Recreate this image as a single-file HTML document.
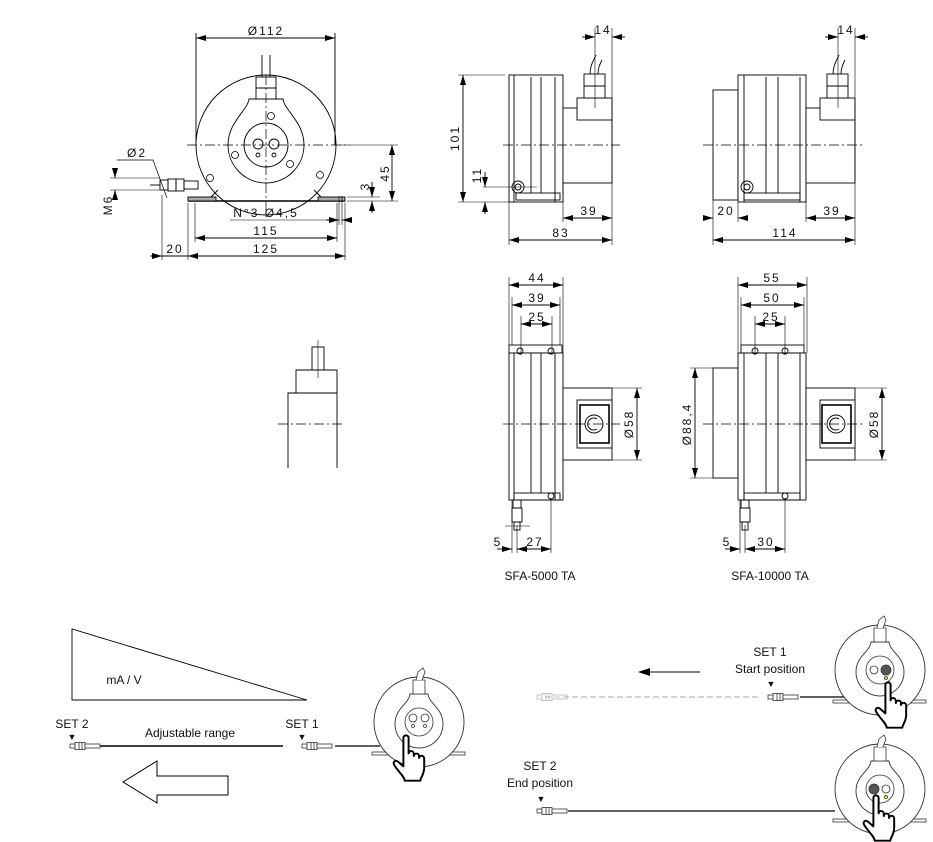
<!DOCTYPE html>
<html><head><meta charset="utf-8"><style>
html,body{margin:0;padding:0;background:#fff}
svg{display:block}
text{font-family:"Liberation Sans",sans-serif;fill:#111}
.d{font-size:12px;letter-spacing:2px}
.l{font-size:12px}
</style></head><body>
<svg width="933" height="842" viewBox="0 0 933 842" xmlns="http://www.w3.org/2000/svg">
<defs>
<marker id="a" viewBox="0 0 10 6" refX="10" refY="3" markerWidth="10" markerHeight="6" orient="auto-start-reverse" markerUnits="userSpaceOnUse"><path d="M0,0L10,3L0,6z" fill="#000"/></marker>
<g id="hand">
<path d="M-4,-28 C-4,-33 4,-33 4,-28 L4,-4 C5,-9 12,-9 12,-3 L12,0 C13,-5 20,-5 20,0 L20,3 C21,-2 28,-1 28,4 L28,18 C28,28 22,34 22,38 L-2,38 C-2,32 -12,24 -18,14 C-21,9 -16,5 -12,9 L-4,16 Z" fill="#fff" stroke="#000" stroke-width="3" stroke-linejoin="round"/>
</g>
<g id="sensor">
<rect x="-47" y="30" width="93" height="3" fill="#fff" stroke="#333" stroke-width="0.8"/>
<circle r="45" fill="#fff" stroke="#333" stroke-width="0.9"/>
<path d="M-9,-28 L9,-28 C10,-18 24,-14 24,2 A24,24 0 1 1 -24,2 C-24,-14 -10,-18 -9,-28Z" fill="#fff" stroke="#333" stroke-width="0.9"/>
<circle r="14" fill="none" stroke="#333" stroke-width="0.8"/>
<rect x="-6" y="-42" width="12" height="14" fill="#fff" stroke="#333" stroke-width="0.8"/>
<path d="M-3,-42 L-1,-50 L4,-54 L6,-50 L3,-42" fill="#fff" stroke="#333" stroke-width="0.8"/>
</g>
<g id="probe">
<rect x="0" y="-2" width="5" height="4" fill="#fff" stroke="#333" stroke-width="0.8"/>
<rect x="5" y="-3.5" width="10" height="7" fill="#fff" stroke="#333" stroke-width="0.8"/>
<line x1="9" y1="-3.5" x2="9" y2="3.5" stroke="#333" stroke-width="0.8"/>
<line x1="12" y1="-3.5" x2="12" y2="3.5" stroke="#333" stroke-width="0.8"/>
<rect x="15" y="-2" width="15" height="4" fill="#fff" stroke="#333" stroke-width="0.8"/>
</g>
</defs>

<g stroke="#000" stroke-width="0.9" fill="none">
<!-- FRONT VIEW -->
<line x1="196" y1="33" x2="196" y2="145"/><line x1="335" y1="33" x2="335" y2="145"/>
<line x1="196" y1="38" x2="335" y2="38" marker-start="url(#a)" marker-end="url(#a)"/>
<line x1="262" y1="55" x2="262" y2="78"/><line x1="270" y1="55" x2="270" y2="78"/>
<circle cx="266" cy="145" r="70"/>
<path d="M210,198 L218,190 M322,198 L314,190"/>
<path d="M249,99 L283,99 C284,110 304,122 304,145 A38,38 0 1 1 228,145 C228,122 248,110 249,99Z" fill="#fff"/>
<rect x="256" y="77" width="20" height="22" fill="#fff"/><line x1="256" y1="88" x2="276" y2="88"/>
<circle cx="266" cy="145" r="22"/>
<circle cx="258" cy="144" r="5"/><circle cx="274" cy="144" r="5"/>
<circle cx="258" cy="155" r="2"/><circle cx="274" cy="155" r="2"/>
<g stroke-width="0.8"><circle cx="271" cy="116" r="3.5"/><circle cx="235" cy="155" r="3.5"/><circle cx="290" cy="164" r="3.5"/><circle cx="210" cy="178" r="3.5"/><circle cx="320" cy="175" r="3.5"/></g>
<line x1="188" y1="201" x2="345" y2="201" stroke-width="1.5"/>
<rect x="188" y="197" width="28" height="4" fill="#aaa"/><rect x="318" y="197" width="27" height="4" fill="#aaa"/>
<line x1="187" y1="145" x2="350" y2="145" stroke-dasharray="10,3,2,3" stroke-width="0.7"/>
<line x1="266" y1="75" x2="266" y2="212" stroke-dasharray="10,3,2,3" stroke-width="0.7"/>
<rect x="160" y="180" width="8" height="10"/><rect x="168" y="179" width="8" height="12"/><rect x="176" y="179" width="8" height="12"/><rect x="184" y="181" width="14" height="8"/>
<line x1="150" y1="185" x2="160" y2="185"/>
<line x1="110" y1="178" x2="160" y2="178" stroke-width="0.6"/><line x1="110" y1="190" x2="160" y2="190" stroke-width="0.6"/>
<line x1="115" y1="168" x2="115" y2="178" marker-end="url(#a)"/><line x1="115" y1="200" x2="115" y2="190" marker-end="url(#a)"/>
<path d="M117,160 L153,160 L167,198" stroke-width="0.7"/>
<line x1="162" y1="195" x2="162" y2="260" stroke-width="0.6"/><line x1="188" y1="203" x2="188" y2="260" stroke-width="0.6"/><line x1="345" y1="203" x2="345" y2="260" stroke-width="0.6"/><line x1="337" y1="203" x2="337" y2="242" stroke-width="0.6"/><line x1="195" y1="203" x2="195" y2="242" stroke-width="0.6"/>
<line x1="195" y1="238" x2="337" y2="238" marker-start="url(#a)" marker-end="url(#a)"/>
<line x1="188" y1="256" x2="345" y2="256" marker-start="url(#a)" marker-end="url(#a)"/>
<line x1="150" y1="256" x2="162" y2="256" marker-end="url(#a)"/><line x1="162" y1="256" x2="188" y2="256"/>
<line x1="230" y1="220" x2="340" y2="220" stroke-width="0.6"/><line x1="326" y1="220" x2="339" y2="220" marker-end="url(#a)"/><line x1="352" y1="220" x2="342" y2="220" marker-end="url(#a)"/>
<line x1="339" y1="196" x2="339" y2="225" stroke-width="0.6"/><line x1="342" y1="196" x2="342" y2="225" stroke-width="0.6"/>
<line x1="340" y1="145" x2="398" y2="145" stroke-width="0.6"/><line x1="347" y1="201" x2="398" y2="201" stroke-width="0.6"/><line x1="347" y1="197" x2="380" y2="197" stroke-width="0.6"/>
<line x1="392" y1="145" x2="392" y2="201" marker-start="url(#a)" marker-end="url(#a)"/>
<line x1="372" y1="182" x2="372" y2="197" marker-end="url(#a)"/><line x1="372" y1="213" x2="372" y2="201" marker-end="url(#a)"/>

<!-- SIDE VIEW 1 -->
<rect x="509" y="75" width="54" height="127" fill="#fff"/>
<line x1="514" y1="75" x2="514" y2="202"/><line x1="531" y1="77" x2="531" y2="193"/><line x1="541" y1="77" x2="541" y2="193"/><line x1="555" y1="77" x2="555" y2="202"/>
<rect x="516" y="193" width="44" height="7"/>
<rect x="563" y="108" width="49" height="75" fill="#fff"/>
<rect x="577" y="98" width="35" height="22" fill="#fff"/>
<rect x="584" y="74" width="21" height="24" fill="#fff"/><line x1="584" y1="86" x2="605" y2="86"/>
<path d="M590,74 C590,65 594,60 596,55 M598,74 C598,68 600,64 602,60"/>
<circle cx="518" cy="187" r="6"/><circle cx="518" cy="187" r="3"/>
<line x1="503" y1="145" x2="620" y2="145" stroke-dasharray="10,3,2,3" stroke-width="0.7"/>
<line x1="595" y1="28" x2="595" y2="108" stroke-width="0.6"/><line x1="612" y1="28" x2="612" y2="245" stroke-width="0.6"/>
<line x1="582" y1="37" x2="595" y2="37" marker-end="url(#a)"/><line x1="625" y1="37" x2="612" y2="37" marker-end="url(#a)"/>
<line x1="458" y1="75" x2="505" y2="75" stroke-width="0.6"/><line x1="458" y1="202" x2="509" y2="202" stroke-width="0.6"/>
<line x1="463" y1="75" x2="463" y2="202" marker-start="url(#a)" marker-end="url(#a)"/>
<line x1="483" y1="187" x2="537" y2="187" stroke-width="0.6"/>
<line x1="485" y1="172" x2="485" y2="187" marker-end="url(#a)"/><line x1="485" y1="214" x2="485" y2="202" marker-end="url(#a)"/>
<line x1="509" y1="202" x2="509" y2="245" stroke-width="0.6"/><line x1="563" y1="185" x2="563" y2="222" stroke-width="0.6"/>
<line x1="563" y1="218" x2="612" y2="218" marker-start="url(#a)" marker-end="url(#a)"/>
<line x1="509" y1="240" x2="612" y2="240" marker-start="url(#a)" marker-end="url(#a)"/>

<!-- SIDE VIEW 2 -->
<rect x="713" y="90" width="25" height="110" fill="#fff"/>
<rect x="738" y="75" width="68" height="127" fill="#fff"/>
<line x1="744" y1="75" x2="744" y2="202"/><line x1="766" y1="77" x2="766" y2="193"/><line x1="778" y1="77" x2="778" y2="193"/><line x1="800" y1="77" x2="800" y2="202"/>
<rect x="744" y="193" width="56" height="7"/>
<rect x="806" y="108" width="49" height="75" fill="#fff"/>
<rect x="820" y="98" width="35" height="22" fill="#fff"/>
<rect x="827" y="74" width="21" height="24" fill="#fff"/><line x1="827" y1="86" x2="848" y2="86"/>
<path d="M833,74 C833,65 837,60 839,55 M841,74 C841,68 843,64 845,60"/>
<circle cx="747" cy="187" r="6"/><circle cx="747" cy="187" r="3"/>
<line x1="703" y1="145" x2="862" y2="145" stroke-dasharray="10,3,2,3" stroke-width="0.7"/>
<line x1="838" y1="28" x2="838" y2="108" stroke-width="0.6"/><line x1="855" y1="28" x2="855" y2="245" stroke-width="0.6"/>
<line x1="825" y1="37" x2="838" y2="37" marker-end="url(#a)"/><line x1="868" y1="37" x2="855" y2="37" marker-end="url(#a)"/>
<line x1="713" y1="200" x2="713" y2="245" stroke-width="0.6"/><line x1="738" y1="202" x2="738" y2="222" stroke-width="0.6"/><line x1="806" y1="185" x2="806" y2="222" stroke-width="0.6"/>
<line x1="703" y1="218" x2="713" y2="218" marker-end="url(#a)"/><line x1="748" y1="218" x2="738" y2="218" marker-end="url(#a)"/>
<line x1="806" y1="218" x2="855" y2="218" marker-start="url(#a)" marker-end="url(#a)"/>
<line x1="713" y1="240" x2="855" y2="240" marker-start="url(#a)" marker-end="url(#a)"/>

<!-- PARTIAL VIEW -->
<rect x="312" y="347" width="12" height="23"/>
<path d="M288,468 L288,393 L296,393 L296,370 L337,370 L337,468"/>
<line x1="296" y1="393" x2="337" y2="393"/>
<line x1="278" y1="424" x2="345" y2="424" stroke-dasharray="10,3,2,3" stroke-width="0.7"/>
<line x1="318" y1="340" x2="318" y2="378" stroke-width="0.6"/>

<!-- BOTTOM VIEW 1 -->
<rect x="509" y="345" width="53" height="8"/>
<rect x="509" y="353" width="54" height="147" fill="#fff"/>
<line x1="514" y1="353" x2="514" y2="500"/><line x1="531" y1="353" x2="531" y2="493"/><line x1="541" y1="353" x2="541" y2="493"/><line x1="555" y1="353" x2="555" y2="500"/>
<rect x="514" y="493" width="46" height="7"/>
<circle cx="520" cy="351" r="3"/><circle cx="551" cy="351" r="3"/><circle cx="551" cy="496" r="3"/>
<rect x="563" y="388" width="49" height="72" fill="#fff"/>
<rect x="577" y="400" width="35" height="48" fill="#fff"/>
<rect x="580" y="405" width="29" height="38" stroke-width="1.6"/>
<circle cx="594" cy="424" r="9"/><path d="M597,419 A6,6 0 1 0 597,429"/>
<rect x="513" y="500" width="8" height="8"/><rect x="512" y="508" width="10" height="14"/><rect x="514" y="522" width="6" height="8"/>
<line x1="503" y1="424" x2="620" y2="424" stroke-dasharray="10,3,2,3" stroke-width="0.7"/>
<line x1="509" y1="277" x2="509" y2="345" stroke-width="0.6"/><line x1="563" y1="277" x2="563" y2="353" stroke-width="0.6"/>
<line x1="512" y1="297" x2="512" y2="345" stroke-width="0.6"/><line x1="560" y1="297" x2="560" y2="345" stroke-width="0.6"/>
<line x1="521" y1="316" x2="521" y2="355" stroke-width="0.6"/><line x1="552" y1="316" x2="552" y2="355" stroke-width="0.6"/>
<line x1="509" y1="285" x2="563" y2="285" marker-start="url(#a)" marker-end="url(#a)"/>
<line x1="512" y1="305" x2="560" y2="305" marker-start="url(#a)" marker-end="url(#a)"/>
<line x1="521" y1="324" x2="552" y2="324" marker-start="url(#a)" marker-end="url(#a)"/>
<line x1="612" y1="388" x2="642" y2="388" stroke-width="0.6"/><line x1="612" y1="460" x2="642" y2="460" stroke-width="0.6"/>
<line x1="637" y1="388" x2="637" y2="460" marker-start="url(#a)" marker-end="url(#a)"/>
<line x1="512" y1="500" x2="512" y2="553" stroke-width="0.6"/><line x1="517" y1="525" x2="517" y2="553" stroke-width="0.6"/><line x1="551" y1="500" x2="551" y2="553" stroke-width="0.6"/>
<line x1="505" y1="526" x2="530" y2="526" stroke-width="0.6"/>
<line x1="497" y1="549" x2="512" y2="549" marker-end="url(#a)"/><line x1="517" y1="549" x2="551" y2="549" marker-start="url(#a)" marker-end="url(#a)"/>

<!-- BOTTOM VIEW 2 -->
<rect x="741" y="345" width="63" height="8"/>
<rect x="713" y="368" width="25" height="110" fill="#fff"/>
<rect x="738" y="353" width="68" height="147" fill="#fff"/>
<line x1="744" y1="353" x2="744" y2="500"/><line x1="766" y1="353" x2="766" y2="493"/><line x1="778" y1="353" x2="778" y2="493"/><line x1="800" y1="353" x2="800" y2="500"/>
<rect x="744" y="493" width="56" height="7"/>
<circle cx="755" cy="351" r="3"/><circle cx="785" cy="351" r="3"/><circle cx="785" cy="496" r="3"/>
<rect x="806" y="388" width="49" height="72" fill="#fff"/>
<rect x="820" y="400" width="35" height="48" fill="#fff"/>
<rect x="822" y="405" width="29" height="38" stroke-width="1.6"/>
<circle cx="836" cy="424" r="9"/><path d="M839,419 A6,6 0 1 0 839,429"/>
<rect x="741" y="500" width="8" height="8"/><rect x="740" y="508" width="10" height="14"/><rect x="742" y="522" width="6" height="8"/>
<line x1="703" y1="424" x2="862" y2="424" stroke-dasharray="10,3,2,3" stroke-width="0.7"/>
<line x1="738" y1="277" x2="738" y2="353" stroke-width="0.6"/><line x1="807" y1="277" x2="807" y2="353" stroke-width="0.6"/>
<line x1="741" y1="297" x2="741" y2="345" stroke-width="0.6"/><line x1="804" y1="297" x2="804" y2="345" stroke-width="0.6"/>
<line x1="755" y1="316" x2="755" y2="355" stroke-width="0.6"/><line x1="785" y1="316" x2="785" y2="355" stroke-width="0.6"/>
<line x1="738" y1="285" x2="807" y2="285" marker-start="url(#a)" marker-end="url(#a)"/>
<line x1="741" y1="305" x2="804" y2="305" marker-start="url(#a)" marker-end="url(#a)"/>
<line x1="755" y1="324" x2="785" y2="324" marker-start="url(#a)" marker-end="url(#a)"/>
<line x1="690" y1="368" x2="713" y2="368" stroke-width="0.6"/><line x1="690" y1="478" x2="713" y2="478" stroke-width="0.6"/>
<line x1="695" y1="368" x2="695" y2="478" marker-start="url(#a)" marker-end="url(#a)"/>
<line x1="855" y1="388" x2="887" y2="388" stroke-width="0.6"/><line x1="855" y1="460" x2="887" y2="460" stroke-width="0.6"/>
<line x1="882" y1="388" x2="882" y2="460" marker-start="url(#a)" marker-end="url(#a)"/>
<line x1="740" y1="500" x2="740" y2="553" stroke-width="0.6"/><line x1="745" y1="525" x2="745" y2="553" stroke-width="0.6"/><line x1="785" y1="500" x2="785" y2="553" stroke-width="0.6"/>
<line x1="725" y1="549" x2="740" y2="549" marker-end="url(#a)"/><line x1="745" y1="549" x2="785" y2="549" marker-start="url(#a)" marker-end="url(#a)"/>

<!-- BOTTOM LEFT -->
<path d="M72,629 L72,700 L307,700 Z" stroke-width="0.9"/>
<line x1="100" y1="746" x2="283" y2="746" stroke-width="1.5"/>
<line x1="335" y1="746" x2="380" y2="746" stroke-width="1.3"/>
<path d="M123,782 L157,761 L157,776 L228,776 L228,795 L157,795 L157,803 Z" stroke-width="1"/>
<line x1="640" y1="672" x2="700" y2="672"/>
<line x1="545" y1="697" x2="760" y2="697" stroke="#aaa" stroke-dasharray="6,3"/>
<line x1="800" y1="697" x2="845" y2="697" stroke-width="1.2"/>
<line x1="568" y1="811" x2="835" y2="811" stroke-width="1.2"/>
</g>
<path d="M638,672 L650,668 L650,676Z" fill="#000"/>

<use href="#probe" x="70" y="746"/>
<use href="#probe" x="302" y="746"/>
<use href="#probe" x="768" y="697"/>
<use href="#probe" x="537" y="811"/>
<g opacity="0.35"><use href="#probe" x="537" y="697"/></g>

<use href="#sensor" x="419" y="722"/>
<g fill="none" stroke="#333" stroke-width="0.8"><circle cx="413" cy="718" r="4"/><circle cx="425" cy="718" r="4"/><circle cx="413" cy="726" r="1.5"/><circle cx="425" cy="726" r="1.5"/></g>
<use href="#hand" transform="translate(406,756) scale(0.65)"/>

<use href="#sensor" x="880" y="670"/>
<g stroke="#333" stroke-width="0.8"><circle cx="874" cy="670" r="4" fill="none"/><circle cx="886" cy="670" r="5" fill="#555"/><circle cx="886" cy="678" r="1.5" fill="#ee0"/></g>
<use href="#hand" transform="translate(888,703) scale(0.65)"/>

<use href="#sensor" x="880" y="789"/>
<g stroke="#333" stroke-width="0.8"><circle cx="874" cy="789" r="5" fill="#555"/><circle cx="886" cy="789" r="4" fill="none"/><circle cx="877" cy="797" r="1.5" fill="#3c3"/><circle cx="886" cy="797" r="1.5" fill="#ee0"/></g>
<use href="#hand" transform="translate(876,816) scale(0.65)"/>

<!-- TEXT -->
<g class="d" text-anchor="middle">
<text x="266" y="35">Ø112</text>
<text x="137" y="157">Ø2</text>
<text x="266" y="217">N°3 Ø4,5</text>
<text x="266" y="235">115</text>
<text x="266" y="253">125</text>
<text x="175" y="253">20</text>
<text transform="translate(112,205) rotate(-90)">M6</text>
<text transform="translate(389,173) rotate(-90)">45</text>
<text transform="translate(369,186) rotate(-90)">3</text>
<text x="603" y="34">14</text>
<text x="846" y="34">14</text>
<text transform="translate(459,138) rotate(-90)">101</text>
<text transform="translate(481,175) rotate(-90)">11</text>
<text x="589" y="215">39</text>
<text x="561" y="237">83</text>
<text x="726" y="215">20</text>
<text x="832" y="215">39</text>
<text x="785" y="237">114</text>
<text x="537" y="282">44</text>
<text x="537" y="302">39</text>
<text x="537" y="321">25</text>
<text x="772" y="282">55</text>
<text x="772" y="302">50</text>
<text x="771" y="321">25</text>
<text transform="translate(633,424) rotate(-90)">Ø58</text>
<text transform="translate(878,424) rotate(-90)">Ø58</text>
<text transform="translate(691,424) rotate(-90)">Ø88,4</text>
<text x="498" y="546">5</text>
<text x="535" y="546">27</text>
<text x="727" y="546">5</text>
<text x="766" y="546">30</text>
</g>
<g class="l" text-anchor="middle">
<text x="540" y="580">SFA-5000 TA</text>
<text x="770" y="580">SFA-10000 TA</text>
<text x="124" y="684">mA / V</text>
<text x="72" y="728">SET 2</text>
<text x="302" y="728">SET 1</text>
<text x="190" y="737">Adjustable range</text>
<text x="770" y="656">SET 1</text>
<text x="770" y="673">Start position</text>
<text x="540" y="770">SET 2</text>
<text x="540" y="787">End position</text>
<text x="72" y="740" font-size="9">▼</text>
<text x="302" y="740" font-size="9">▼</text>
<text x="771" y="687" font-size="9">▼</text>
<text x="541" y="802" font-size="9">▼</text>
</g>
</svg>
</body></html>
